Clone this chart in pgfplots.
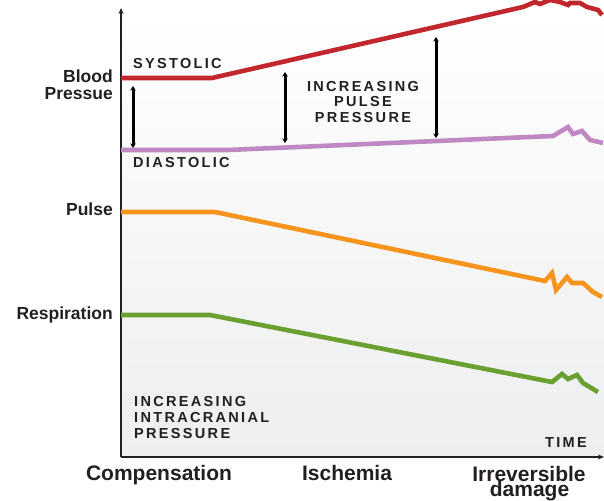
\documentclass[border=0pt]{standalone}
\usepackage{fontspec}
\setmainfont{Liberation Sans}
\newfontfamily\spaced[LetterSpace=16]{Liberation Sans}
\usepackage{pgfplots}
\pgfplotsset{compat=1.18}
\usetikzlibrary{arrows.meta}
\definecolor{sysred}{RGB}{193,39,45}
\definecolor{diapurple}{RGB}{192,136,195}
\definecolor{pulseorange}{RGB}{247,148,29}
\definecolor{respgreen}{RGB}{106,160,48}
\definecolor{txt}{RGB}{35,31,32}
\definecolor{bggray}{RGB}{237,238,239}
\newcommand{\side}{\fontsize{17.5}{18}\selectfont\bfseries}
\newcommand{\bottom}{\fontsize{21}{15}\selectfont\bfseries}
\newcommand{\caps}{\fontsize{14.5}{15.5}\selectfont\spaced\bfseries}
\begin{document}
\begin{tikzpicture}
\useasboundingbox (0,0) rectangle (604pt,500pt);
\begin{axis}[
  at={(121pt,43pt)}, anchor=south west,
  x=1pt, y=1pt,
  xmin=121, xmax=604, ymin=43, ymax=492,
  axis lines=left,
  xtick=\empty, ytick=\empty,
  clip=false,
  axis line style={line width=2.2pt, color=txt},
  x axis line style={-{Stealth[length=6pt,width=5pt]}},
  y axis line style={-{Stealth[length=6pt,width=5pt]}},
  axis background/.style={top color=white, bottom color=bggray},
  every axis plot/.append style={line join=miter, line cap=butt},
]
% Systolic
\addplot[sysred, line width=4.6pt] coordinates {
 (121,422) (212,422) (523,493) (535,498) (540,496) (550,500) (560,498)
 (568,495) (570,497) (580,497) (587,493) (598,490) (602,485)};
% Diastolic
\addplot[diapurple, line width=4.6pt] coordinates {
 (121,350) (228,350) (553,364) (568,373) (573,366) (582,369) (590,360) (603,357)};
% Pulse
\addplot[pulseorange, line width=4.6pt] coordinates {
 (121,288) (215,288) (545,219) (552,227) (556,210) (567,223) (572,217)
 (583,217) (593,208) (602,203)};
% Respiration
\addplot[respgreen, line width=4.6pt] coordinates {
 (121,185) (210,185) (552,118) (562,126) (568,121) (577,125) (583,117) (598,108)};
% double arrows
\addplot[black, line width=3pt, {Stealth[length=4.5pt,width=5.5pt]}-{Stealth[length=4.5pt,width=5.5pt]}] coordinates {(133,414) (133,352)};
\addplot[black, line width=3pt, {Stealth[length=4.5pt,width=5.5pt]}-{Stealth[length=4.5pt,width=5.5pt]}] coordinates {(285,428) (285,357)};
\addplot[black, line width=3pt, {Stealth[length=4.5pt,width=5.5pt]}-{Stealth[length=4.5pt,width=5.5pt]}] coordinates {(436,463) (436,362)};
% side labels
\node[anchor=base east, text=txt, font=\side, inner sep=0pt] at (axis cs:113,417) {Blood};
\node[anchor=base east, text=txt, font=\side, inner sep=0pt] at (axis cs:113,400.5) {Pressue};
\node[anchor=base east, text=txt, font=\side, inner sep=0pt] at (axis cs:113,284) {Pulse};
\node[anchor=base east, text=txt, font=\side, inner sep=0pt] at (axis cs:113,180) {Respiration};
% inner labels
\node[anchor=base west, text=txt, font=\caps, inner sep=0pt] at (axis cs:133,431.5) {SYSTOLIC};
\node[anchor=base west, text=txt, font=\caps, inner sep=0pt] at (axis cs:133,332) {DIASTOLIC};
\node[anchor=base, text=txt, font=\caps, inner sep=0pt] at (axis cs:363,408.3) {INCREASING};
\node[anchor=base, text=txt, font=\caps, inner sep=0pt] at (axis cs:363,393.3) {PULSE};
\node[anchor=base, text=txt, font=\caps, inner sep=0pt] at (axis cs:363,377.3) {PRESSURE};
\node[anchor=base west, text=txt, font=\caps, inner sep=0pt] at (axis cs:134,93) {INCREASING};
\node[anchor=base west, text=txt, font=\caps, inner sep=0pt] at (axis cs:134,78) {INTRACRANIAL};
\node[anchor=base west, text=txt, font=\caps, inner sep=0pt] at (axis cs:134,62) {PRESSURE};
\node[anchor=base west, text=txt, font=\caps, inner sep=0pt] at (axis cs:545,53) {TIME};
% bottom labels
\node[anchor=base, text=txt, font=\bottom, inner sep=0pt] at (axis cs:159,20) {Compensation};
\node[anchor=base, text=txt, font=\bottom, inner sep=0pt] at (axis cs:347,19.5) {Ischemia};
\node[anchor=base, text=txt, font=\bottom, inner sep=0pt] at (axis cs:529,18.5) {Irreversible};
\node[anchor=base, text=txt, font=\bottom, inner sep=0pt] at (axis cs:529.5,3.5) {damage};
\end{axis}
\end{tikzpicture}
\end{document}
